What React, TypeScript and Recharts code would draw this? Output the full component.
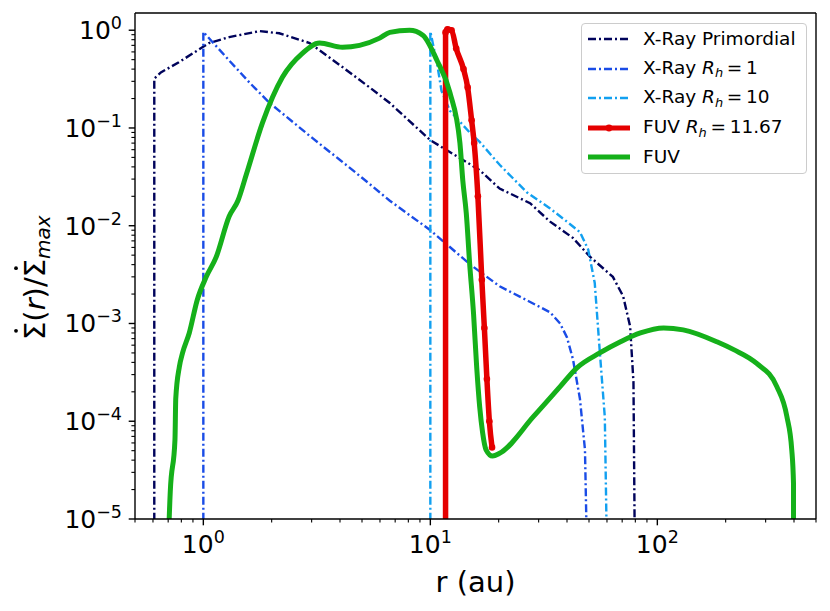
import { LineChart, Line, XAxis, YAxis } from "recharts";

// radius (au) and normalised mass-loss rate for each profile
const primordialR = [0.608, 0.608, 0.65, 0.78, 1.06, 1.3, 1.77, 2.16, 2.94, 4.1, 5.4, 6.63, 10, 16.5, 20.2, 27.5, 33.7, 42.5, 50.6, 63.7, 70.7, 75.9, 78.5, 80];
const primordialV = [1e-6, 0.32, 0.37, 0.47, 0.74, 0.85, 0.98, 0.93, 0.74, 0.42, 0.26, 0.18, 0.075, 0.037, 0.024, 0.017, 0.011, 0.0075, 0.0048, 0.003, 0.0019, 0.00093, 0.00025, 1e-6];

const rh1R = [1, 1, 1.3, 1.6, 1.96, 3, 4, 5, 6.63, 10, 15, 20.2, 27, 33.7, 37.3, 40, 42.5, 45.6, 48, 49.6];
const rh1V = [1e-6, 0.96, 0.49, 0.29, 0.18, 0.08, 0.047, 0.031, 0.018, 0.009, 0.004, 0.0024, 0.0017, 0.0013, 0.001, 0.00072, 0.00043, 0.00017, 5.1e-5, 1e-6];

const rh10R = [10, 10, 10.7, 11.2, 12.2, 14.9, 16.5, 20.2, 26.6, 33.7, 40, 45.6, 49.6, 53, 55.7, 58.7, 60.6];
const rh10V = [1e-6, 0.97, 0.46, 0.24, 0.15, 0.09, 0.072, 0.042, 0.022, 0.015, 0.011, 0.0086, 0.0057, 0.0026, 0.00054, 0.00011, 1e-6];

const fuvRhR = [11.67, 11.67, 11.9, 12.4, 13.0, 14.0, 14.6, 15.2, 15.6, 16.2, 16.86, 17.3, 17.75, 18.2, 18.7];
const fuvRhV = [1e-6, 0.95, 1.02, 1.0, 0.65, 0.4, 0.26, 0.12, 0.07, 0.02, 0.0028, 0.0009, 0.00027, 0.0001, 5.4e-5];

const fuvR = [0.686, 0.715, 0.75, 0.756, 0.784, 0.81, 0.867, 0.94, 1.03, 1.14, 1.3, 1.42, 1.55, 1.82, 2.23, 2.73, 3.25, 4.1, 4.88, 5.98, 6.63, 8.1, 9.27, 10.7, 12.2, 13.5, 13.9, 14.4, 14.9, 15.5, 16.0, 16.5, 17.0, 17.6, 18.8, 20.2, 28.5, 37.3, 44.1, 55.8, 68.8, 84.2, 106.6, 130, 183, 217, 274, 336, 372, 391, 398, 398];
const fuvV = [1e-6, 1.9e-5, 6.5e-5, 1.7e-4, 3.6e-4, 5e-4, 8e-4, 1.74e-3, 3e-3, 4.8e-3, 0.0125, 0.018, 0.034, 0.112, 0.33, 0.58, 0.74, 0.67, 0.7, 0.83, 0.95, 1.0, 0.89, 0.49, 0.23, 0.07, 0.029, 0.0134, 0.0041, 0.00126, 0.00036, 0.00014, 7.6e-5, 5.1e-5, 4.4e-5, 4.7e-5, 1.12e-4, 2.26e-4, 3.5e-4, 5e-4, 6.5e-4, 8e-4, 9e-4, 8.6e-4, 6.5e-4, 5.4e-4, 3.9e-4, 2.26e-4, 1.12e-4, 5.1e-5, 2.3e-5, 1e-6];

const xMajor = [1, 10, 100];
const xMinor = [0.5, 0.6, 0.7, 0.8, 0.9, 2, 3, 4, 5, 6, 7, 8, 9, 20, 30, 40, 50, 60, 70, 80, 90, 200, 300, 400, 500];
const yMajor = [1e-5, 1e-4, 1e-3, 1e-2, 1e-1, 1];
const yMinor = [
  2e-5, 3e-5, 4e-5, 5e-5, 6e-5, 7e-5, 8e-5, 9e-5,
  2e-4, 3e-4, 4e-4, 5e-4, 6e-4, 7e-4, 8e-4, 9e-4,
  2e-3, 3e-3, 4e-3, 5e-3, 6e-3, 7e-3, 8e-3, 9e-3,
  0.02, 0.03, 0.04, 0.05, 0.06, 0.07, 0.08, 0.09,
  0.2, 0.3, 0.4, 0.5, 0.6, 0.7, 0.8, 0.9,
];

const rows = (r: number[], v: number[]) => r.map((x, i) => ({ r: x, v: v[i] }));

const FONT = "DejaVu Sans";
const NAVY = "#00035b";
const BLUE = "#1a4ce6";
const AZURE = "#12a0f0";
const RED = "#e50000";
const GREEN = "#15b01a";
const DASH = "8 3 2 3";
const DASH_W = 2.4;

const expLabel = (v: number) => {
  const e = Math.round(Math.log10(v));
  return e < 0 ? "\u2212" + Math.abs(e) : String(e);
};

function XTick(props: any) {
  const { x, y, payload } = props;
  const major = xMajor.includes(payload.value);
  return (
    <g>
      <line x1={x} x2={x} y1={y} y2={y + (major ? 6.3 : 3.6)} stroke="#000" strokeWidth={major ? 1.4 : 1.1} />
      {major && (
        <text x={x} y={y + 34} textAnchor="middle" fontSize={25} fontFamily={FONT} fill="#000">
          10<tspan dy={-10} fontSize={17.5}>{expLabel(payload.value)}</tspan>
        </text>
      )}
    </g>
  );
}

function YTick(props: any) {
  const { x, y, payload } = props;
  const major = yMajor.includes(payload.value);
  return (
    <g>
      <line x1={x} x2={x - (major ? 6.3 : 3.6)} y1={y} y2={y} stroke="#000" strokeWidth={major ? 1.4 : 1.1} />
      {major && (
        <text x={x - 13} y={y + 9} textAnchor="end" fontSize={25} fontFamily={FONT} fill="#000">
          10<tspan dy={-10} fontSize={17.5}>{expLabel(payload.value)}</tspan>
        </text>
      )}
    </g>
  );
}

function XLabel() {
  return (
    <text x={475.5} y={592} textAnchor="middle" fontSize={29} fontFamily={FONT} fill="#000">
      r (au)
    </text>
  );
}

// rotated y label: local x runs upward along the text, local y runs to the right
function YLabel() {
  const fs = 29;
  const start = -64;
  const sigmaW = 0.632 * fs;
  const second = start + (0.632 + 0.39 + 0.411 + 0.39 + 0.337) * fs;
  return (
    <g transform="translate(45,276) rotate(-90)">
      <text x={start} y={0} fontSize={fs} fontFamily={FONT} fill="#000">
        {"\u03a3("}
        <tspan fontStyle="italic">r</tspan>
        {")/\u03a3"}
        <tspan fontStyle="italic" fontSize={20} dy={5}>max</tspan>
      </text>
      <circle cx={start + sigmaW / 2} cy={-29} r={1.9} fill="#000" />
      <circle cx={second + sigmaW / 2} cy={-29} r={1.9} fill="#000" />
    </g>
  );
}

const Rh = ({ v }: { v: string }) => (
  <>
    <span style={{ fontStyle: "italic" }}>R</span>
    <span style={{ fontStyle: "italic", fontSize: "0.7em", position: "relative", top: "0.3em" }}>h</span>
    <span>{"\u2009=\u2009" + v}</span>
  </>
);

const legendItems = [
  { key: "p", color: NAVY, dash: DASH, width: DASH_W, dot: false, label: <>X-Ray Primordial</> },
  { key: "1", color: BLUE, dash: DASH, width: DASH_W, dot: false, label: <>X-Ray <Rh v="1" /></> },
  { key: "10", color: AZURE, dash: DASH, width: DASH_W, dot: false, label: <>X-Ray <Rh v="10" /></> },
  { key: "f", color: RED, dash: undefined, width: 5, dot: true, label: <>FUV <Rh v="11.67" /></> },
  { key: "g", color: GREEN, dash: undefined, width: 5, dot: false, label: <>FUV</> },
];

function LegendBox() {
  return (
    <div
      style={{
        position: "absolute",
        left: 581,
        top: 23,
        width: 226,
        height: 151,
        boxSizing: "border-box",
        border: "1px solid #cccccc",
        borderRadius: 4,
        background: "rgba(255,255,255,0.8)",
        fontFamily: FONT,
        fontSize: 18.5,
        color: "#000",
      }}
    >
      {legendItems.map((it, i) => (
        <div
          key={it.key}
          style={{ position: "absolute", left: 5, top: 15 + i * 29.6 - 12, height: 24, display: "flex", alignItems: "center", whiteSpace: "nowrap", lineHeight: "24px" }}
        >
          <svg width={44} height={12} style={{ marginRight: 12 }}>
            <line x1={1} x2={43} y1={6} y2={6} stroke={it.color} strokeWidth={it.width} strokeDasharray={it.dash} />
            {it.dot && <circle cx={22} cy={6} r={3.4} fill={it.color} />}
          </svg>
          <span>{it.label}</span>
        </div>
      ))}
    </div>
  );
}

export default function App() {
  return (
    <div style={{ position: "absolute", left: 0, top: 0, width: 830, height: 611, background: "#fff" }}>
      <LineChart width={830} height={611} margin={{ top: 12, right: 13, bottom: 0, left: 0 }}>
        <XAxis
          dataKey="r"
          type="number"
          scale="log"
          domain={[0.5, 500]}
          allowDataOverflow
          ticks={[...xMinor, ...xMajor]}
          interval={0}
          height={92}
          tickSize={0}
          tickMargin={0}
          tickLine={false}
          tick={<XTick />}
          axisLine={{ stroke: "#000", strokeWidth: 1.4 }}
          label={<XLabel />}
        />
        <XAxis xAxisId="top" orientation="top" type="number" scale="log" domain={[0.5, 500]} allowDataOverflow height={1} tick={false} tickLine={false} axisLine={{ stroke: "#000", strokeWidth: 1.4 }} />
        <YAxis
          dataKey="v"
          type="number"
          scale="log"
          domain={[1e-5, 1.5]}
          allowDataOverflow
          ticks={[...yMinor, ...yMajor]}
          interval={0}
          width={135}
          tickSize={0}
          tickMargin={0}
          tickLine={false}
          tick={<YTick />}
          axisLine={{ stroke: "#000", strokeWidth: 1.4 }}
          label={<YLabel />}
        />
        <YAxis yAxisId="right" orientation="right" type="number" scale="log" domain={[1e-5, 1.5]} allowDataOverflow width={1} tick={false} tickLine={false} axisLine={{ stroke: "#000", strokeWidth: 1.4 }} />
        <Line data={rows(primordialR, primordialV)} dataKey="v" type="linear" stroke={NAVY} strokeWidth={DASH_W} strokeDasharray={DASH} dot={false} isAnimationActive={false} />
        <Line data={rows(rh1R, rh1V)} dataKey="v" type="linear" stroke={BLUE} strokeWidth={DASH_W} strokeDasharray={DASH} dot={false} isAnimationActive={false} />
        <Line data={rows(rh10R, rh10V)} dataKey="v" type="linear" stroke={AZURE} strokeWidth={DASH_W} strokeDasharray={DASH} dot={false} isAnimationActive={false} />
        <Line data={rows(fuvRhR, fuvRhV)} dataKey="v" type="monotone" stroke={RED} strokeWidth={5.5} dot={{ r: 3.3, fill: RED, stroke: RED, strokeWidth: 0 }} isAnimationActive={false} />
        <Line data={rows(fuvR, fuvV)} dataKey="v" type="monotone" stroke={GREEN} strokeWidth={5} dot={false} isAnimationActive={false} />
      </LineChart>
      <LegendBox />
    </div>
  );
}
